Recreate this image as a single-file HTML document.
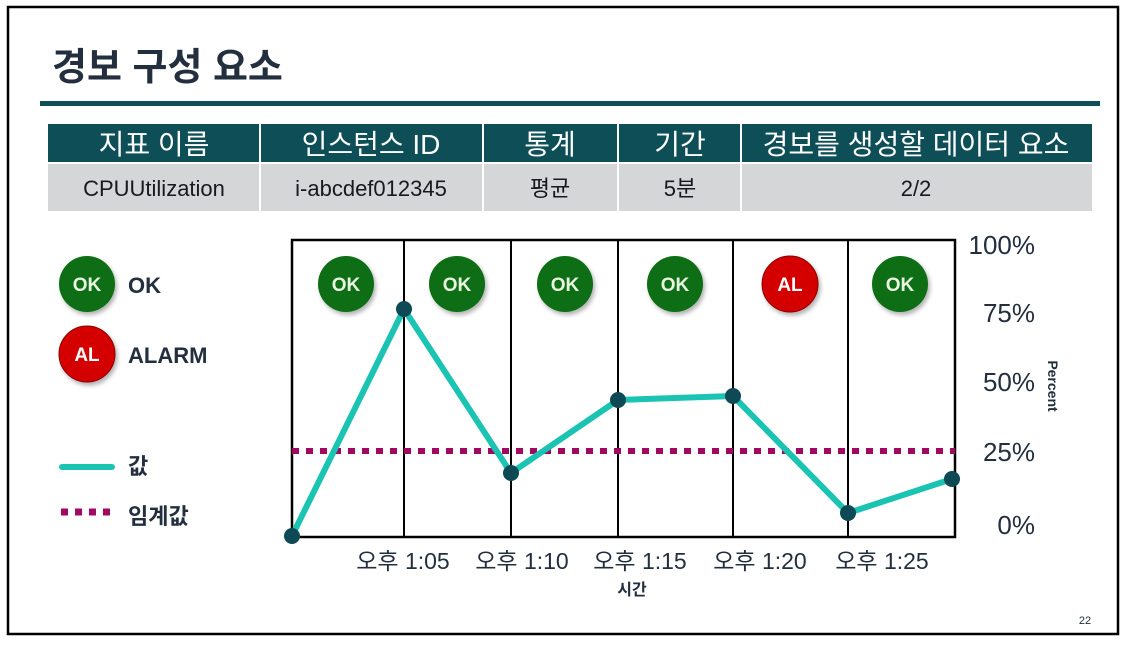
<!DOCTYPE html>
<html><head><meta charset="utf-8"><style>
html,body{margin:0;padding:0;background:#fff;}
svg text{font-family:"Liberation Sans","Noto Sans CJK KR",sans-serif;}
</style></head><body>
<svg width="1126" height="648" viewBox="0 0 1126 648" xmlns="http://www.w3.org/2000/svg">
<defs>
<filter id="sh" x="-30%" y="-30%" width="170%" height="170%"><feDropShadow dx="2" dy="3" stdDeviation="2" flood-color="#000" flood-opacity="0.3"/></filter>
</defs>
<rect x="0" y="0" width="1126" height="648" fill="#fff"/>
<rect x="8" y="7" width="1110" height="627" fill="none" stroke="#000" stroke-width="2.5"/>
<text x="52" y="80" font-size="38" font-weight="bold" fill="#232f3e">경보 구성 요소</text>
<rect x="40" y="101" width="1060" height="5" fill="#0e4e57"/>
<!-- table -->
<rect x="48" y="124" width="1044" height="39" fill="#0e4e57"/>
<rect x="48" y="163" width="1044" height="48" fill="#d4d6d8"/>
<g stroke="#fff" stroke-width="2">
<line x1="260" y1="124" x2="260" y2="211"/><line x1="483" y1="124" x2="483" y2="211"/>
<line x1="618" y1="124" x2="618" y2="211"/><line x1="741" y1="124" x2="741" y2="211"/>
<line x1="48" y1="163" x2="1092" y2="163"/>
</g>
<g font-size="28" fill="#fff" text-anchor="middle">
<text x="154" y="154">지표 이름</text><text x="371" y="154">인스턴스 ID</text>
<text x="550" y="154">통계</text><text x="680" y="154">기간</text><text x="916" y="154">경보를 생성할 데이터 요소</text>
</g>
<g font-size="22" fill="#16191f" text-anchor="middle">
<text x="154" y="196">CPUUtilization</text><text x="371" y="196">i-abcdef012345</text>
<text x="550" y="196">평균</text><text x="680" y="196">5분</text><text x="916" y="196">2/2</text>
</g>
<!-- chart -->
<rect x="292" y="240" width="663" height="297" fill="none" stroke="#000" stroke-width="2.5"/>
<g stroke="#000" stroke-width="2">
<line x1="404" y1="240" x2="404" y2="537"/><line x1="511" y1="240" x2="511" y2="537"/>
<line x1="618" y1="240" x2="618" y2="537"/><line x1="733" y1="240" x2="733" y2="537"/>
<line x1="848" y1="240" x2="848" y2="537"/>
</g>
<line x1="292" y1="451" x2="955" y2="451" stroke="#a0095f" stroke-width="6" stroke-dasharray="7,7"/>
<polyline points="292,536 404,309 511,473 618,400 733,396 848,513 952,479" fill="none" stroke="#1bc3b3" stroke-width="6" stroke-linejoin="round"/>
<g fill="#0d4a55">
<circle cx="292" cy="536" r="8"/><circle cx="404" cy="309" r="8"/><circle cx="511" cy="473" r="8"/>
<circle cx="618" cy="400" r="8"/><circle cx="733" cy="396" r="8"/><circle cx="848" cy="513" r="8"/><circle cx="952" cy="479" r="8"/>
</g>
<g font-size="19" font-weight="bold" fill="#eaf7e0" text-anchor="middle">
<circle cx="346" cy="284" r="28" fill="#0a6e12" filter="url(#sh)"/><text x="346" y="291">OK</text>
<circle cx="457" cy="284" r="28" fill="#0a6e12" filter="url(#sh)"/><text x="457" y="291">OK</text>
<circle cx="565" cy="284" r="28" fill="#0a6e12" filter="url(#sh)"/><text x="565" y="291">OK</text>
<circle cx="675" cy="284" r="28" fill="#0a6e12" filter="url(#sh)"/><text x="675" y="291">OK</text>
<circle cx="790" cy="284" r="28" fill="#d40000" stroke="#8a0000" stroke-width="1" filter="url(#sh)"/><text x="790" y="291" fill="#fff">AL</text>
<circle cx="900" cy="284" r="28" fill="#0a6e12" filter="url(#sh)"/><text x="900" y="291">OK</text>
<circle cx="87" cy="284" r="28" fill="#0a6e12" filter="url(#sh)"/><text x="87" y="291">OK</text>
<circle cx="87" cy="354" r="28" fill="#d40000" stroke="#8a0000" stroke-width="1" filter="url(#sh)"/><text x="87" y="361" fill="#fff">AL</text>
</g>
<g font-size="22" font-weight="bold" fill="#232f3e">
<text x="128" y="293">OK</text><text x="128" y="363">ALARM</text>
<text x="128" y="474">값</text><text x="128" y="524">임계값</text>
</g>
<line x1="62" y1="467" x2="112" y2="467" stroke="#1bc3b3" stroke-width="6" stroke-linecap="round"/>
<line x1="61" y1="512" x2="112" y2="512" stroke="#a0095f" stroke-width="7" stroke-dasharray="7,7"/>
<g font-size="26" fill="#232f3e" text-anchor="end">
<text x="1035" y="254">100%</text><text x="1035" y="322">75%</text><text x="1035" y="391">50%</text>
<text x="1035" y="461">25%</text><text x="1035" y="534">0%</text>
</g>
<text x="1048" y="386" font-size="14" font-weight="bold" fill="#232f3e" text-anchor="middle" transform="rotate(90 1048 386)">Percent</text>
<g font-size="23" fill="#232f3e" text-anchor="middle">
<text x="403" y="569">오후 1:05</text><text x="522" y="569">오후 1:10</text><text x="640" y="569">오후 1:15</text>
<text x="760" y="569">오후 1:20</text><text x="882" y="569">오후 1:25</text>
</g>
<text x="632" y="595" font-size="16" font-weight="bold" fill="#232f3e" text-anchor="middle">시간</text>
<text x="1085" y="624" font-size="11" fill="#232f3e" text-anchor="middle">22</text>
</svg>
</body></html>
